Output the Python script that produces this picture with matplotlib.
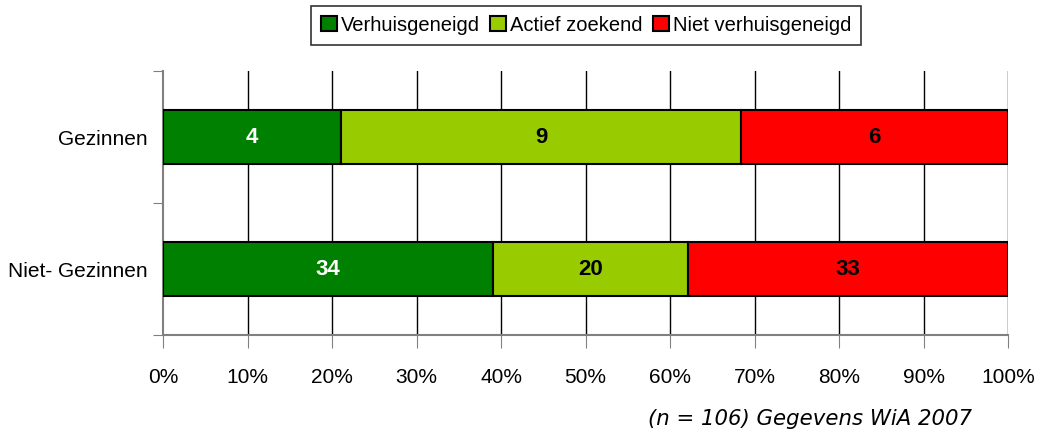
import numpy as np
import matplotlib.pyplot as plt
from matplotlib.patches import Patch

categories = ['Niet- Gezinnen', 'Gezinnen']
series = ['Verhuisgeneigd', 'Actief zoekend', 'Niet verhuisgeneigd']
counts = {
    'Verhuisgeneigd': [34, 4],
    'Actief zoekend': [20, 9],
    'Niet verhuisgeneigd': [33, 6],
}
colors = ['#008000', '#99CC00', '#FF0000']
label_colors = ['white', 'black', 'black']
xticks = [0, 10, 20, 30, 40, 50, 60, 70, 80, 90, 100]
note = '(n = 106) Gegevens WiA 2007'

plt.rcParams['font.family'] = ['Liberation Sans', 'DejaVu Sans']

fig = plt.figure(figsize=(10.43, 4.34), dpi=100)
ax = fig.add_axes([0.1563, 0.228, 0.8102, 0.6083])

totals = np.sum([counts[s] for s in series], axis=0)
ypos = np.arange(len(categories)) + 0.5
left = np.zeros(len(categories))
for s, c, lc in zip(series, colors, label_colors):
    vals = np.array(counts[s])
    pct = vals / totals * 100
    ax.barh(ypos, pct, left=left, height=0.41, color=c,
            edgecolor='black', linewidth=1.5, zorder=3)
    for y, l, p, v in zip(ypos, left, pct, vals):
        ax.text(l + p / 2, y, str(v), ha='center', va='center',
                fontsize=16, fontweight='bold', color=lc, zorder=4)
    left += pct

ax.set_xlim(0, 100)
ax.set_ylim(0, 2)
ax.set_xticks(xticks)
ax.set_xticklabels([f'{t}%' for t in xticks], fontsize=15)
ax.set_yticks([0, 1, 2])
ax.set_yticklabels([])
ax.set_yticks(ypos, minor=True)
ax.set_yticklabels(categories, minor=True, fontsize=15)
ax.tick_params(axis='y', which='minor', length=0, pad=11)
ax.tick_params(axis='y', which='major', length=7, color='#808080', direction='out')
ax.tick_params(axis='x', length=9, color='#808080', direction='out', pad=15)

for x in xticks[1:]:
    ax.axvline(x, color='black', linewidth=1, zorder=1)

for side in ['top', 'right']:
    ax.spines[side].set_visible(False)
for side in ['left', 'bottom']:
    ax.spines[side].set_color('#808080')
    ax.spines[side].set_linewidth(1.5)

handles = [Patch(facecolor=c, edgecolor='black', linewidth=1.5) for c in colors]
leg = fig.legend(handles, series, loc='center', bbox_to_anchor=(0.562, 0.942),
                 ncol=3, fontsize=14.5, frameon=True, fancybox=False,
                 handlelength=0.8, handleheight=0.8, handletextpad=0.2,
                 columnspacing=0.5, borderpad=0.5)
leg.get_frame().set_edgecolor('black')
leg.get_frame().set_linewidth(1.2)

fig.text(0.621, 0.035, note, fontsize=15.3, style='italic',
         family=['DejaVu Sans'], ha='left', va='center')

fig.savefig('out.png', dpi=100)
